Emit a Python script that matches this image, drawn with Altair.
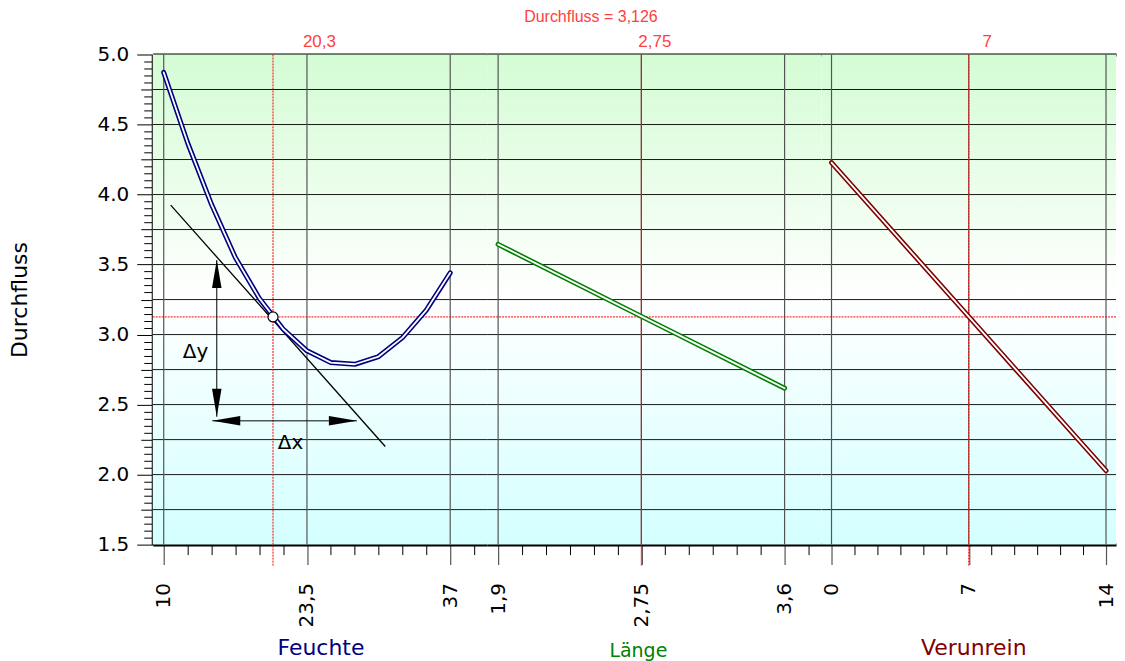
import altair as alt
import pandas as pd

# ---------------- data ----------------
response_value = 3.126
response_label = "Durchfluss = 3,126"

feuchte_x = [10, 12.25, 14.5, 16.75, 19, 21.25, 23.5, 25.75, 28, 30.25, 32.5, 34.75, 37]
feuchte_y = [4.872, 4.37, 3.93, 3.55, 3.26, 3.04, 2.884, 2.800, 2.788, 2.843, 2.978, 3.175, 3.441]

laenge_x = [1.9, 2.75, 3.6]
laenge_y = [3.644, 3.130, 2.617]

verun_x = [0, 7, 14]
verun_y = [4.228, 3.128, 2.028]

factor_names = ["Feuchte", "Länge", "Verunrein"]
factor_colors = ["#000080", "#008000", "#800000"]
current_values = [20.3, 2.75, 7]
current_labels = ["20,3", "2,75", "7"]
tick_values = [[10, 23.5, 37], [1.9, 2.75, 3.6], [0, 7, 14]]
minor_steps = [2.25, 0.85 / 6, 7 / 6]
x_domains = [[8.965, 40.481], [1.8348, 3.8192], [-0.5091, 14.509]]

y_major = [1.5, 2.0, 2.5, 3.0, 3.5, 4.0, 4.5, 5.0]
y_mid = [1.75, 2.25, 2.75, 3.25, 3.75, 4.25, 4.75]
h_grid = [1.75, 2.0, 2.25, 2.5, 2.75, 3.0, 3.25, 3.5, 3.75, 4.0, 4.25, 4.5, 4.75]

# tangent / delta annotation (panel Feuchte)
tangent_x = [10.66, 30.88]
tangent_y = [3.924, 2.201]
dy_arrow = {"x": 15.0, "y1": 2.413, "y2": 3.532}
dx_arrow = {"y": 2.384, "x1": 14.58, "x2": 28.2}
delta_text = ["Δy", "Δx"]
delta_tx = [13.0, 21.95]
delta_ty = [2.876, 2.227]

# ---------------- styling ----------------
WIDTHS = [335, 335, 295]
H = 491
FONT = "DejaVu Sans"
RED_TXT = "#ff4040"
grad = {
    "gradient": "linear", "x1": 0, "x2": 0, "y1": 0, "y2": 1,
    "stops": [
        {"offset": 0, "color": "#d4fcd4"},
        {"offset": 0.5, "color": "#ffffff"},
        {"offset": 1, "color": "#d4ffff"},
    ],
}
yscale = alt.Scale(domain=[1.5, 5.0], nice=False, zero=False)
one = pd.DataFrame({"a": [0]})
y_minor = [round(1.5 + 0.05 * k, 2) for k in range(71)]
y_minor = [v for v in y_minor if abs(v * 4 - round(v * 4)) > 1e-6]

title_x = [168, 151, 152]
title_y = [110, 112, 110]
title_size = [22, 19, 22]
label_x = [167, 168, 166]
vdash = [[2, 1], [1, 0], [2, 1]]
lines = [(feuchte_x, feuchte_y), (laenge_x, laenge_y), (verun_x, verun_y)]


def panel(i):
    W = WIDTHS[i]
    xs = alt.Scale(domain=x_domains[i], nice=False, zero=False)
    lo, hi = x_domains[i]
    step = minor_steps[i]
    minor = []
    k = 0
    while True:
        v = tick_values[i][0] + step * k
        if v > hi:
            break
        if min(abs(v - t) for t in tick_values[i]) > 1e-6:
            minor.append(round(v, 6))
        k += 1

    layers = []
    layers.append(alt.Chart(one).mark_rect(fill=grad, strokeWidth=0).encode(
        x=alt.value(0), x2=alt.value(W), y=alt.value(0), y2=alt.value(H)))
    layers.append(alt.Chart(pd.DataFrame({"v": h_grid})).mark_rule(color="black", strokeWidth=1, opacity=0.9).encode(
        y=alt.Y("v:Q", scale=yscale, axis=None)))
    layers.append(alt.Chart(pd.DataFrame({"v": tick_values[i]})).mark_rule(color="#555555", strokeWidth=1.2).encode(
        x=alt.X("v:Q", scale=xs, axis=None)))
    layers.append(alt.Chart(pd.DataFrame({"v": [response_value]})).mark_rule(color="red", strokeWidth=1, strokeDash=[2, 1]).encode(
        y=alt.Y("v:Q", scale=yscale, axis=None)))
    layers.append(alt.Chart(pd.DataFrame({"v": [current_values[i]]})).mark_rule(color="red", strokeWidth=1, strokeDash=vdash[i]).encode(
        x=alt.X("v:Q", scale=xs, axis=None), y=alt.value(0), y2=alt.value(H + 21)))

    lx, ly = lines[i]
    ldf = pd.DataFrame({"x": lx, "y": ly})
    if i == 0:
        layers.append(alt.Chart(pd.DataFrame({"x": tangent_x, "y": tangent_y})).mark_line(color="black", strokeWidth=1.3).encode(
            x=alt.X("x:Q", scale=xs, axis=None), y=alt.Y("y:Q", scale=yscale, axis=None)))
    layers.append(alt.Chart(ldf).mark_line(color=factor_colors[i], strokeWidth=5, strokeCap="round", strokeJoin="round").encode(
        x=alt.X("x:Q", scale=xs, axis=None), y=alt.Y("y:Q", scale=yscale, axis=None)))
    layers.append(alt.Chart(ldf).mark_line(color="white", strokeWidth=1.8, strokeCap="round", strokeJoin="round").encode(
        x=alt.X("x:Q", scale=xs, axis=None), y=alt.Y("y:Q", scale=yscale, axis=None)))

    if i == 0:
        shafts = pd.DataFrame({
            "x": [dy_arrow["x"], dx_arrow["x1"]], "x2": [dy_arrow["x"], dx_arrow["x2"]],
            "y": [dy_arrow["y1"], dx_arrow["y"]], "y2": [dy_arrow["y2"], dx_arrow["y"]],
        })
        layers.append(alt.Chart(shafts).mark_rule(color="black", strokeWidth=1).encode(
            x=alt.X("x:Q", scale=xs, axis=None), x2="x2:Q",
            y=alt.Y("y:Q", scale=yscale, axis=None), y2="y2:Q"))
        heads = pd.DataFrame({
            "x": [dy_arrow["x"], dy_arrow["x"], dx_arrow["x1"], dx_arrow["x2"]],
            "y": [dy_arrow["y2"], dy_arrow["y1"], dx_arrow["y"], dx_arrow["y"]],
            "s": ["M0,0L0.34,2L-0.34,2Z", "M0,0L0.34,-2L-0.34,-2Z",
                  "M0,0L2,-0.34L2,0.34Z", "M0,0L-2,-0.34L-2,0.34Z"],
        })
        layers.append(alt.Chart(heads).mark_point(filled=True, color="black", size=784, opacity=1, strokeWidth=0).encode(
            x=alt.X("x:Q", scale=xs, axis=None), y=alt.Y("y:Q", scale=yscale, axis=None),
            shape=alt.Shape("s:N", scale=None, legend=None)))
        layers.append(alt.Chart(pd.DataFrame({"t": delta_text, "x": delta_tx, "y": delta_ty})).mark_text(
            font=FONT, fontSize=20, color="black").encode(
            x=alt.X("x:Q", scale=xs, axis=None), y=alt.Y("y:Q", scale=yscale, axis=None), text="t:N"))
        layers.append(alt.Chart(pd.DataFrame({"x": [current_values[0]], "y": [response_value]})).mark_point(
            shape="circle", filled=True, fill="white", stroke="black", strokeWidth=1.2, size=100, opacity=1).encode(
            x=alt.X("x:Q", scale=xs, axis=None), y=alt.Y("y:Q", scale=yscale, axis=None)))

    # red value label above each panel
    layers.append(alt.Chart(one).mark_text(text=current_labels[i], font="Liberation Sans", fontSize=17,
                                           color=RED_TXT, align="center", baseline="alphabetic").encode(
        x=alt.value(label_x[i]), y=alt.value(-8)))
    if i == 1:
        layers.append(alt.Chart(one).mark_text(text=response_label, font="Liberation Sans", fontSize=16,
                                               color=RED_TXT, align="center", baseline="alphabetic").encode(
            x=alt.value(104), y=alt.value(-33)))

    axdf = pd.DataFrame({"x": [tick_values[i][1]], "y": [3.0]})
    major_x = alt.Axis(
        orient="bottom", values=tick_values[i], labelExpr="replace(toString(datum.value), '.', ',')",
        labelAngle=270, labelAlign="right", labelBaseline="middle", labelPadding=18,
        labelFont=FONT, labelFontSize=20, labelColor="black", labelFlush=False, labelOverlap=False, labelBound=False,
        tickSize=20, tickColor="#555555", tickWidth=1.2, domain=True, domainWidth=3, domainColor="black",
        grid=False, title=factor_names[i], titleColor=factor_colors[i], titleFont=FONT,
        titleFontSize=title_size[i], titleFontWeight="normal", titleX=title_x[i], titleY=title_y[i],
        titleAlign="center", titleBaseline="alphabetic", minExtent=0)
    minor_x = alt.Axis(orient="bottom", values=minor, tickSize=10, tickColor="black", tickWidth=1,
                       labels=False, domain=False, grid=False, title=None, minExtent=0)
    top_x = alt.Axis(orient="top", values=[], ticks=False, labels=False, domain=True, domainWidth=3,
                     domainColor="black", grid=False, title=None, minExtent=0, maxExtent=0)
    if i == 0:
        major_y = alt.Axis(orient="left", values=y_major, format=".1f", tickSize=16, tickColor="black", tickWidth=1,
                           labelPadding=8, labelFont=FONT, labelFontSize=20, labelColor="black",
                           domain=True, domainWidth=3, domainColor="black", grid=False,
                           title="Durchfluss", titleFont=FONT, titleFontSize=22, titleFontWeight="normal",
                           titleColor="black", titlePadding=66, labelOverlap=False, labelFlush=False, minExtent=0)
        mid_y = alt.Axis(orient="left", values=y_mid, tickSize=12, tickColor="black", tickWidth=1,
                         labels=False, domain=False, grid=False, title=None, minExtent=0)
        min_y = alt.Axis(orient="left", values=y_minor, tickSize=9, tickColor="black", tickWidth=1,
                         labels=False, domain=False, grid=False, title=None, minExtent=0)
    else:
        major_y = mid_y = min_y = None
    for ax_x, ax_y in [(major_x, major_y), (minor_x, mid_y), (top_x, min_y)]:
        layers.append(alt.Chart(axdf).mark_point(opacity=0).encode(
            x=alt.X("x:Q", scale=xs, axis=ax_x), y=alt.Y("y:Q", scale=yscale, axis=ax_y)))

    return alt.layer(*layers).resolve_axis(x="independent", y="independent").properties(width=W, height=H)


chart = alt.hconcat(panel(0), panel(1), panel(2), spacing=0, bounds="flush").properties(
    padding=0
).configure_view(stroke=None)

chart.save("out.html", embed_options={"renderer": "svg", "actions": False})
